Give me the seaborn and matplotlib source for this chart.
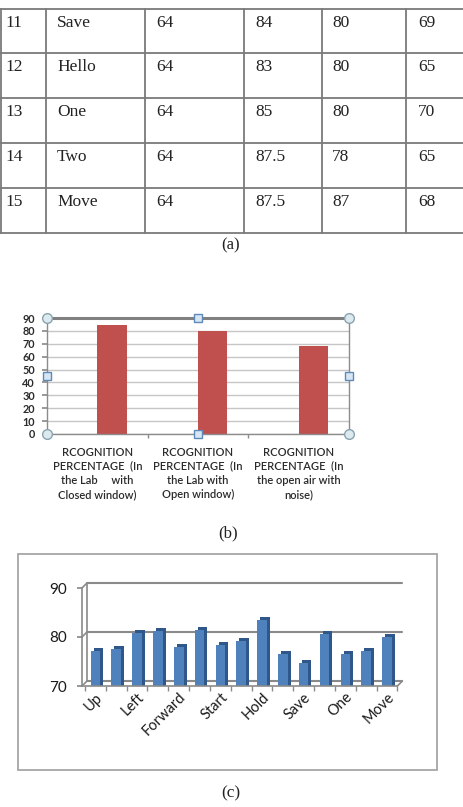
import numpy as np
import pandas as pd
import seaborn as sns
import matplotlib.pyplot as plt
from matplotlib.patches import Rectangle
from matplotlib.transforms import offset_copy

# (a) table rows
row_no = ["11", "12", "13", "14", "15"]
row_word = ["Save", "Hello", "One", "Two", "Move"]
col_c = ["64", "64", "64", "64", "64"]
col_d = ["84", "83", "85", "87.5", "87.5"]
col_e = ["80", "80", "80", "78", "87"]
col_f = ["69", "65", "70", "65", "68"]

# (b) recognition percentage per condition
cond_labels = [
    "RCOGNITION\nPERCENTAGE  (In\nthe Lab     with\nClosed window)",
    "RCOGNITION\nPERCENTAGE  (In\nthe Lab with\nOpen window)",
    "RCOGNITION\nPERCENTAGE  (In\nthe open air with\nnoise)",
]
cond_values = [84.5, 80, 68.5]

# (c) per word
word_ticks = ["Up", "", "Left", "", "Forward", "", "Start", "", "Hold", "",
              "Save", "", "One", "", "Move"]
word_values = [77.2, 77.6, 80.9, 81.2, 77.9, 81.5, 78.3, 79.2, 83.4, 76.6,
               74.6, 80.6, 76.6, 77.2, 80.0]

sns.set_theme(style="white")
plt.rcParams["font.family"] = ["Lato", "DejaVu Sans"]

W, H = 463, 807
fig = plt.figure(figsize=(W / 100, H / 100), dpi=100)

# background axes in pixel units: table, captions, frame of (c)
bg = fig.add_axes([0, 0, 1, 1], zorder=0)
bg.set_xlim(0, W)
bg.set_ylim(H, 0)
bg.axis("off")

serif = "Liberation Serif"
line_c = "#7a7a7a"
row_y = [9, 53, 98, 143, 188, 233]
col_x = [0.5, 46, 145, 244, 322, 406]
text_x = [5, 57, 156, 255, 332, 418]
for y in row_y:
    bg.plot([0, W], [y, y], color=line_c, lw=1.3)
for x in col_x:
    bg.plot([x, x], [row_y[0], row_y[-1]], color=line_c, lw=1.3)
for j, col in enumerate([row_no, row_word, col_c, col_d, col_e, col_f]):
    for i, txt in enumerate(col):
        bg.text(text_x[j], row_y[i] + 18, txt, family=serif, fontsize=12.5,
                va="baseline", color="#222222")

bg.text(231, 245, "(a)", family=serif, fontsize=12, ha="center", va="center", color="#222222")
bg.text(228, 533, "(b)", family=serif, fontsize=12, ha="center", va="center", color="#222222")
bg.text(231, 793, "(c)", family=serif, fontsize=12.5, ha="center", va="center", color="#222222")
bg.add_patch(Rectangle((18, 554), 419, 216, fill=False, edgecolor="#a6a6a6", lw=1.3))

# ---------- (b) ----------
ax_b = fig.add_axes([47 / W, 1 - 434 / H, 302 / W, 116 / H], zorder=2)
df_b = pd.DataFrame({
    "condition": cond_labels + cond_labels,
    "series": ["empty"] * 3 + ["percent"] * 3,
    "value": [np.nan] * 3 + cond_values,
})
sns.barplot(data=df_b, x="condition", y="value", hue="series",
            hue_order=["empty", "percent"], palette=["#C0504D", "#C0504D"],
            width=0.58, saturation=1, errorbar=None, legend=False, ax=ax_b,
            linewidth=0)
ax_b.set_ylim(0, 90)
ax_b.set_yticks(np.arange(0, 91, 10))
ax_b.set_xlim(-0.5, 2.5)
ax_b.yaxis.grid(True, color="#c6c6c6", lw=1)
ax_b.set_axisbelow(True)
ax_b.set_xlabel("")
ax_b.set_ylabel("")
for s in ax_b.spines.values():
    s.set_color("#8c8c8c")
    s.set_linewidth(1)
ax_b.spines["top"].set_linewidth(2.2)
ax_b.spines["top"].set_color("#808080")
ax_b.tick_params(axis="y", length=3.6, color="#8c8c8c", pad=5,
                 labelsize=7.8, labelcolor="#2b2b2b", left=True)
for t in ax_b.get_yticklabels():
    t.set_fontweight("bold")
ax_b.set_xticks(range(3))
ax_b.set_xticklabels(cond_labels, fontsize=8, linespacing=1.35, color="#2b2b2b",
                     fontweight="semibold")
ax_b.tick_params(axis="x", length=0, pad=9)
ax_b.set_xticks([0.5, 1.5], minor=True)
ax_b.tick_params(axis="x", which="minor", length=3, color="#8c8c8c", bottom=True)
# selection handles round the plot area
ax_b.plot([0, 1, 0, 1], [0, 0, 1, 1], "o", transform=ax_b.transAxes, ms=7,
          mfc="#dce9ef", mec="#8aa3af", mew=1, clip_on=False, zorder=6)
ax_b.plot([0.5, 0.5, 0, 1], [0, 1, 0.5, 0.5], "s", transform=ax_b.transAxes, ms=5.5,
          mfc="#d6e6f5", mec="#5f89b6", mew=1, clip_on=False, zorder=6)

# ---------- (c) ----------
ax_c = fig.add_axes([82 / W, 1 - 686 / H, 315.4 / W, 98 / H], zorder=2)
sns.barplot(x=np.arange(len(word_values)), y=word_values, color="#4F81BD",
            width=0.46, saturation=1, errorbar=None, ax=ax_c, linewidth=0)
xmin, xmax = -0.644, 14.5
ax_c.set_xlim(xmin, xmax)
ax_c.set_ylim(70, 90)
ax_c.set_yticks([70, 80, 90])

# dark side of each column
side = offset_copy(ax_c.transData, fig=fig, x=3, y=3, units="dots")
for p in list(ax_c.patches):
    ax_c.add_patch(Rectangle(p.get_xy(), p.get_width(), p.get_height(),
                             transform=side, facecolor="#30578a", lw=0, zorder=0.8))

# back wall and floor
gray3d = "#8a8a8a"
back = offset_copy(ax_c.transData, fig=fig, x=5, y=5, units="dots")
for y in [70, 80, 90]:
    ax_c.plot([xmin, xmax], [y, y], transform=back, color=gray3d, lw=1.5,
              clip_on=False, zorder=0.5)
    ax_c.annotate("", xy=(xmin, y), xytext=(5, 5), textcoords="offset pixels",
                  arrowprops=dict(arrowstyle="-", color=gray3d, lw=1.2,
                                  shrinkA=0, shrinkB=0), annotation_clip=False)
ax_c.plot([xmin, xmin], [70, 90], transform=back, color=gray3d, lw=1.2,
          clip_on=False, zorder=0.5)
ax_c.annotate("", xy=(xmax, 70), xytext=(5, 5), textcoords="offset pixels",
              arrowprops=dict(arrowstyle="-", color=gray3d, lw=1.2,
                              shrinkA=0, shrinkB=0), annotation_clip=False)

for s in ["top", "right"]:
    ax_c.spines[s].set_visible(False)
for s in ["left", "bottom"]:
    ax_c.spines[s].set_color(gray3d)
    ax_c.spines[s].set_linewidth(1.2)
ax_c.tick_params(axis="y", length=3.6, color=gray3d, pad=7, labelsize=11,
                 labelcolor="#1a1a1a", left=True)
ax_c.set_xticks(range(len(word_ticks)))
ax_c.set_xticklabels(word_ticks, rotation=45, ha="right", rotation_mode="anchor",
                     fontsize=10.5, color="#1a1a1a")
ax_c.tick_params(axis="x", length=0, pad=3)
ax_c.set_xticks(np.arange(-0.5, 15, 1), minor=True)
ax_c.tick_params(axis="x", which="minor", length=3.6, color=gray3d, bottom=True)
ax_c.set_xlabel("")
ax_c.set_ylabel("")

fig.savefig("out.png", dpi=100)
